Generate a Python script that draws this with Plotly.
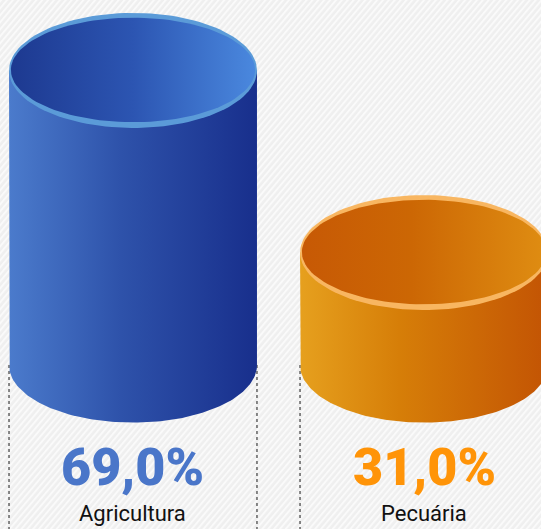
import base64

import numpy as np
import plotly.graph_objects as go

categories = ["Agricultura", "Pecuária"]
values = [69.0, 31.0]
value_labels = ["69,0%", "31,0%"]

# look of each cylinder
_STYLE = [
    dict(
        body=[[0, "#4b7bcc"], [0.45, "#2e52aa"], [1, "#182f8c"]],
        inner=[[0, "#1d3990"], [0.5, "#2c55b2"], [1, "#4a88de"]],
        rim="#5b9bd8",
        text="#4a76c9",
    ),
    dict(
        body=[[0, "#e6a01e"], [0.4, "#d67e08"], [1, "#c35404"]],
        inner=[[0, "#c75905"], [0.45, "#cc6704"], [1, "#df8d12"]],
        rim="#f8b661",
        text="#ff9408",
    ),
]
_RX = 0.426      # half width, x units
_RY = 12.0       # ellipse half height, y units
_FLOOR = 7.5     # where the cylinders stand
_Y_RANGE = [-26.7, 83.7]
_X_RANGE = [-0.457, 1.402]


def _background():
    svg = (
        '<svg xmlns="http://www.w3.org/2000/svg" width="541" height="529">'
        '<defs><pattern id="p" width="4.5" height="4.5" patternUnits="userSpaceOnUse" '
        'patternTransform="rotate(40)">'
        '<rect width="4.5" height="4.5" fill="#efefef"/>'
        '<rect width="2" height="4.5" fill="#fafafa"/></pattern></defs>'
        '<rect width="541" height="529" fill="url(#p)"/></svg>'
    )
    return "data:image/svg+xml;base64," + base64.b64encode(svg.encode()).decode()


def _arc(cx, cy, rx, ry, t0, t1, n=120):
    t = np.linspace(t0, t1, n)
    return cx + rx * np.cos(t), cy + ry * np.sin(t)


def _shape(fig, xs, ys, fill):
    kw = dict(fillgradient=dict(type="horizontal", colorscale=fill)) if isinstance(fill, list) else dict(fillcolor=fill)
    fig.add_trace(
        go.Scatter(
            x=xs, y=ys, mode="lines", fill="toself", line=dict(width=0),
            hoverinfo="skip", showlegend=False, **kw,
        )
    )


fig = go.Figure()

for i, (cat, val, lab) in enumerate(zip(categories, values, value_labels)):
    st = _STYLE[i]
    # body: sides + rounded bottom
    bx, by = _arc(i, _FLOOR, _RX, _RY, np.pi, 2 * np.pi)
    xs = np.concatenate([[i - _RX], bx, [i + _RX, i - _RX]])
    ys = np.concatenate([[val], by, [val, val]])
    _shape(fig, xs, ys, st["body"])
    # top rim and inside
    ox, oy = _arc(i, val, _RX, _RY, 0, 2 * np.pi)
    _shape(fig, ox, oy, st["rim"])
    ix, iy = _arc(i, val + 0.1, _RX * 0.985, _RY - 1.1, 0, 2 * np.pi)
    _shape(fig, ix, iy, st["inner"])

    for side in (-1, 1):
        fig.add_shape(
            type="line", xref="x", yref="y",
            x0=i + side * _RX, x1=i + side * _RX, y0=_FLOOR, y1=_Y_RANGE[0],
            line=dict(color="#7a7a7a", width=1.8, dash="3px,3px"), layer="below",
        )

    fig.add_annotation(
        x=i, y=0.117, xref="x", yref="paper", yanchor="middle", text=lab, showarrow=False,
        font=dict(family="Roboto, sans-serif", size=52, color=st["text"], weight=900),
    )
    fig.add_annotation(
        x=i, y=0.03, xref="x", yref="paper", yanchor="middle", text=cat, showarrow=False,
        font=dict(family="Roboto, sans-serif", size=22, color="#111111"),
    )

fig.update_layout(
    width=541,
    height=529,
    margin=dict(l=0, r=0, t=0, b=0),
    paper_bgcolor="#efefef",
    plot_bgcolor="rgba(0,0,0,0)",
    xaxis=dict(range=_X_RANGE, visible=False, fixedrange=True),
    yaxis=dict(range=_Y_RANGE, visible=False, fixedrange=True),
    images=[dict(
        source=_background(), xref="paper", yref="paper", x=0, y=1,
        sizex=1, sizey=1, sizing="stretch", layer="below",
    )],
)

fig.write_html(
    "out.html",
    config=dict(displayModeBar=False),
    post_script="document.body.style.margin='0';",
)
